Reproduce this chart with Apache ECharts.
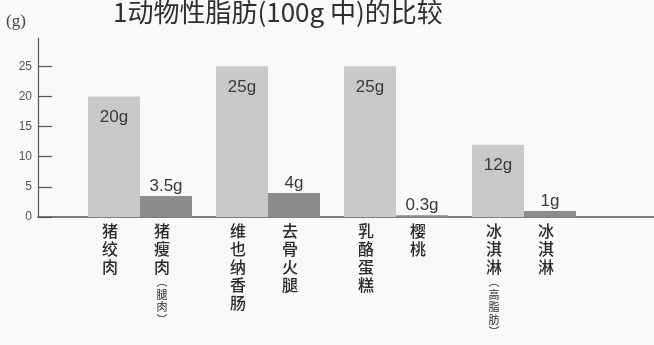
<!DOCTYPE html>
<html>
<head>
<meta charset="utf-8">
<script src="https://cdn.jsdelivr.net/npm/echarts@6/dist/echarts.min.js"></script>
<style>
html,body{margin:0;padding:0;background:#f9f9f9;}
#c{width:654px;height:345px;}
</style>
</head>
<body>
<div id="c"></div>
<script>
const titleText = '1动物性脂肪(100g 中)的比较';
const unitText = '(g)';
const groups = ['A', 'B', 'C', 'D'];
const lightNames = ['猪绞肉', '维也纳香肠', '乳酪蛋糕', '冰淇淋'];
const lightNotes = ['', '', '', '高脂肪'];
const darkNames = ['猪瘦肉', '去骨火腿', '樱桃', '冰淇淋'];
const darkNotes = ['腿肉', '', '', ''];
const lightValues = [20, 25, 25, 12];
const darkValues = [3.5, 4, 0.3, 1];
const yTicks = [0, 5, 10, 15, 20, 25];
const yMax = 29.7;

function tokens(name, note) {
  const t = name.split('').map(c => ({k: 'm', c}));
  if (note) {
    t.push({k: 's', c: '︵'});
    note.split('').forEach(c => t.push({k: 's', c}));
    t.push({k: 's', c: '︶'});
  }
  return t;
}
function buildLabel(i) {
  const a = tokens(lightNames[i], lightNotes[i]);
  const b = tokens(darkNames[i], darkNotes[i]);
  const n = Math.max(a.length, b.length);
  const lines = [];
  for (let j = 0; j < n; j++) {
    const ta = a[j], tb = b[j];
    const emptyKey = (ta && ta.k === 'm') || (tb && tb.k === 'm') ? 'm' : 's';
    const sa = ta ? '{' + ta.k + '|' + ta.c + '}' : '{' + emptyKey + '| }';
    const sb = tb ? '{' + tb.k + '|' + tb.c + '}' : '{' + emptyKey + '| }';
    lines.push(sa + sb);
  }
  return lines.join('\n');
}

const cjk = '"Noto Sans CJK SC", "Noto Sans", sans-serif';
const chart = echarts.init(document.getElementById('c'));
chart.setOption({
  backgroundColor: '#f9f9f9',
  animation: false,
  title: [
    {text: titleText, left: 113, top: -1, padding: 0,
     textStyle: {fontFamily: cjk, fontSize: 26, fontWeight: 'normal', color: '#2e2e2e'}},
    {text: unitText, left: 6, top: 13, padding: 0,
     textStyle: {fontFamily: '"Liberation Serif", serif', fontSize: 17, fontWeight: 'normal', color: '#444'}}
  ],
  grid: [
    {left: 38, right: 0, top: 38, bottom: 128},
    {left: 76, right: 66, top: 38, bottom: 128}
  ],
  xAxis: [
    {gridIndex: 0, type: 'category', data: [''],
     axisLine: {show: true, lineStyle: {color: '#555', width: 1.5}},
     axisTick: {show: false}, axisLabel: {show: false}},
    {gridIndex: 1, type: 'category', data: groups,
     axisLine: {show: false}, axisTick: {show: false},
     axisLabel: {
       interval: 0, margin: 5, padding: [0, 8, 0, 0],
       formatter: (v, i) => buildLabel(i),
       rich: {
         m: {fontFamily: cjk, fontSize: 16, lineHeight: 18, fontWeight: 500, color: '#2a2a2a', width: 52, align: 'center'},
         s: {fontFamily: cjk, fontSize: 11, lineHeight: 12.5, color: '#2a2a2a', width: 52, align: 'center'}
       }
     }}
  ],
  yAxis: [
    {gridIndex: 0, type: 'value', min: 0, max: yMax, interval: 5,
     axisLine: {show: true, lineStyle: {color: '#555', width: 1.2}},
     axisTick: {show: true, inside: true, length: 14, customValues: yTicks, lineStyle: {color: '#555', width: 1.2}},
     axisLabel: {customValues: yTicks, margin: 6, color: '#555', fontFamily: '"Liberation Sans", sans-serif', fontSize: 12},
     splitLine: {show: false}},
    {gridIndex: 1, type: 'value', min: 0, max: yMax, show: false}
  ],
  series: [
    {type: 'bar', xAxisIndex: 1, yAxisIndex: 1, data: lightValues,
     barWidth: 52, barGap: '0%', itemStyle: {color: '#c9c9c9'},
     label: {show: true, position: 'insideTop', distance: 12, formatter: '{c}g',
             color: '#3a3a3a', fontSize: 17, fontFamily: '"Liberation Sans", sans-serif'}},
    {type: 'bar', xAxisIndex: 1, yAxisIndex: 1, data: darkValues,
     barWidth: 52, barGap: '0%', itemStyle: {color: '#8c8c8c'},
     label: {show: true, position: 'top', distance: 1, formatter: '{c}g',
             color: '#3a3a3a', fontSize: 17, fontFamily: '"Liberation Sans", sans-serif'}}
  ]
});
</script>
</body>
</html>
